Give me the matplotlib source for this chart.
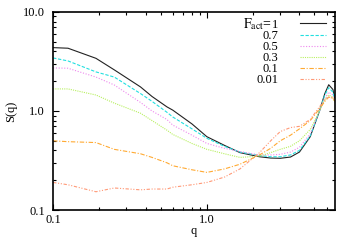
import matplotlib
matplotlib.use("Agg")
import matplotlib.pyplot as plt
from matplotlib.ticker import FixedLocator, FuncFormatter, NullFormatter, LogLocator

# structure factor S(q) for different active fractions
q = [0.1, 0.125, 0.19, 0.25, 0.37, 0.44, 0.55, 0.6, 0.8, 1.0, 1.3, 1.64,
     2.2, 2.6, 3.0, 3.5, 4.0, 4.7, 5.4, 5.85, 6.2, 6.6, 6.8]

s_1 = [4.36, 4.3, 3.4, 2.6, 1.75, 1.4, 1.1, 1.02, 0.74, 0.55, 0.45, 0.38,
       0.345, 0.335, 0.333, 0.343, 0.385, 0.55, 1.0, 1.5, 1.84, 1.65, 1.35]
s_07 = [3.43, 3.2, 2.48, 2.2, 1.5, 1.25, 0.97, 0.87, 0.66, 0.53, 0.44, 0.385,
        0.355, 0.345, 0.345, 0.36, 0.40, 0.56, 1.0, 1.45, 1.72, 1.55, 1.3]
s_05 = [2.72, 2.7, 2.2, 1.83, 1.22, 1.0, 0.82, 0.72, 0.57, 0.47, 0.42, 0.39,
        0.36, 0.36, 0.365, 0.385, 0.43, 0.59, 1.0, 1.35, 1.55, 1.45, 1.25]
s_03 = [1.67, 1.67, 1.45, 1.2, 0.95, 0.8, 0.64, 0.58, 0.47, 0.41, 0.37, 0.34,
        0.35, 0.38, 0.41, 0.44, 0.5, 0.65, 1.0, 1.3, 1.45, 1.38, 1.22]
s_01 = [0.50, 0.49, 0.48, 0.41, 0.37, 0.34, 0.30, 0.28, 0.255, 0.24, 0.26, 0.29,
        0.36, 0.42, 0.5, 0.57, 0.66, 0.8, 1.05, 1.25, 1.38, 1.35, 1.25]
s_001 = [0.19, 0.18, 0.153, 0.167, 0.16, 0.163, 0.163, 0.17, 0.18, 0.19, 0.215, 0.26,
         0.38, 0.5, 0.62, 0.68, 0.70, 0.82, 1.1, 1.3, 1.38, 1.35, 1.25]

labels = ['1', '0.7', '0.5', '0.3', '0.1', '0.01']

plt.rcParams['font.family'] = 'Liberation Serif'
plt.rcParams['mathtext.fontset'] = 'stix'
plt.rcParams['font.size'] = 9

fig = plt.figure(figsize=(3.54, 2.48), dpi=100)
ax = fig.add_axes([0.150, 0.153, 0.796, 0.799])

series = [s_1, s_07, s_05, s_03, s_01, s_001]
colors = ['#222222', '#22e0e0', '#ee88ee', '#b8f060', '#ffaa33', '#ff9977']
styles = ['-', (0, (3, 1.5)), (0, (1, 1.5)), (0, (1, 1)),
          (0, (4, 1.5, 1, 1.5)), (0, (3, 1.5, 1, 1.5, 1, 1.5))]
for s, c, ls, lab in zip(series, colors, styles, labels):
    ax.plot(q, s, color=c, ls=ls, lw=0.8, label=lab)

ax.set_xscale('log')
ax.set_yscale('log')
ax.set_xlim(0.1, 6.8)
ax.set_ylim(0.1, 10)

fmt = FuncFormatter(lambda v, p: '%.1f' % v)
ax.xaxis.set_major_locator(FixedLocator([0.1, 1.0]))
ax.yaxis.set_major_locator(FixedLocator([0.1, 1.0, 10.0]))
ax.xaxis.set_major_formatter(fmt)
ax.yaxis.set_major_formatter(fmt)
ax.xaxis.set_minor_locator(LogLocator(subs=range(2, 10)))
ax.yaxis.set_minor_locator(LogLocator(subs=range(2, 10)))
ax.xaxis.set_minor_formatter(NullFormatter())
ax.yaxis.set_minor_formatter(NullFormatter())
ax.tick_params(which='both', direction='in', top=True, right=True, width=0.8)
ax.tick_params(which='major', length=4)
ax.tick_params(which='minor', length=2.2)
ax.tick_params(axis='x', pad=3)
ax.tick_params(axis='y', pad=6)
for sp in ax.spines.values():
    sp.set_linewidth(1.2)

ax.set_xlabel('q', labelpad=-1)
ax.set_ylabel('S(q)', labelpad=4)

leg = ax.legend(loc='upper right', bbox_to_anchor=(0.968, 0.965), frameon=False,
                markerfirst=False, handlelength=2.1, handletextpad=1.7,
                labelspacing=-0.07, borderpad=0, borderaxespad=0)
ann = ax.annotate(r'$\mathrm{F}_{\mathrm{act}}$=', xy=(0, 0), xycoords=leg.get_texts()[0],
                  xytext=(0, 2.0), textcoords='offset points', ha='right',
                  va='baseline', zorder=10, fontsize=10)

fig.savefig('out.png', dpi=100)
